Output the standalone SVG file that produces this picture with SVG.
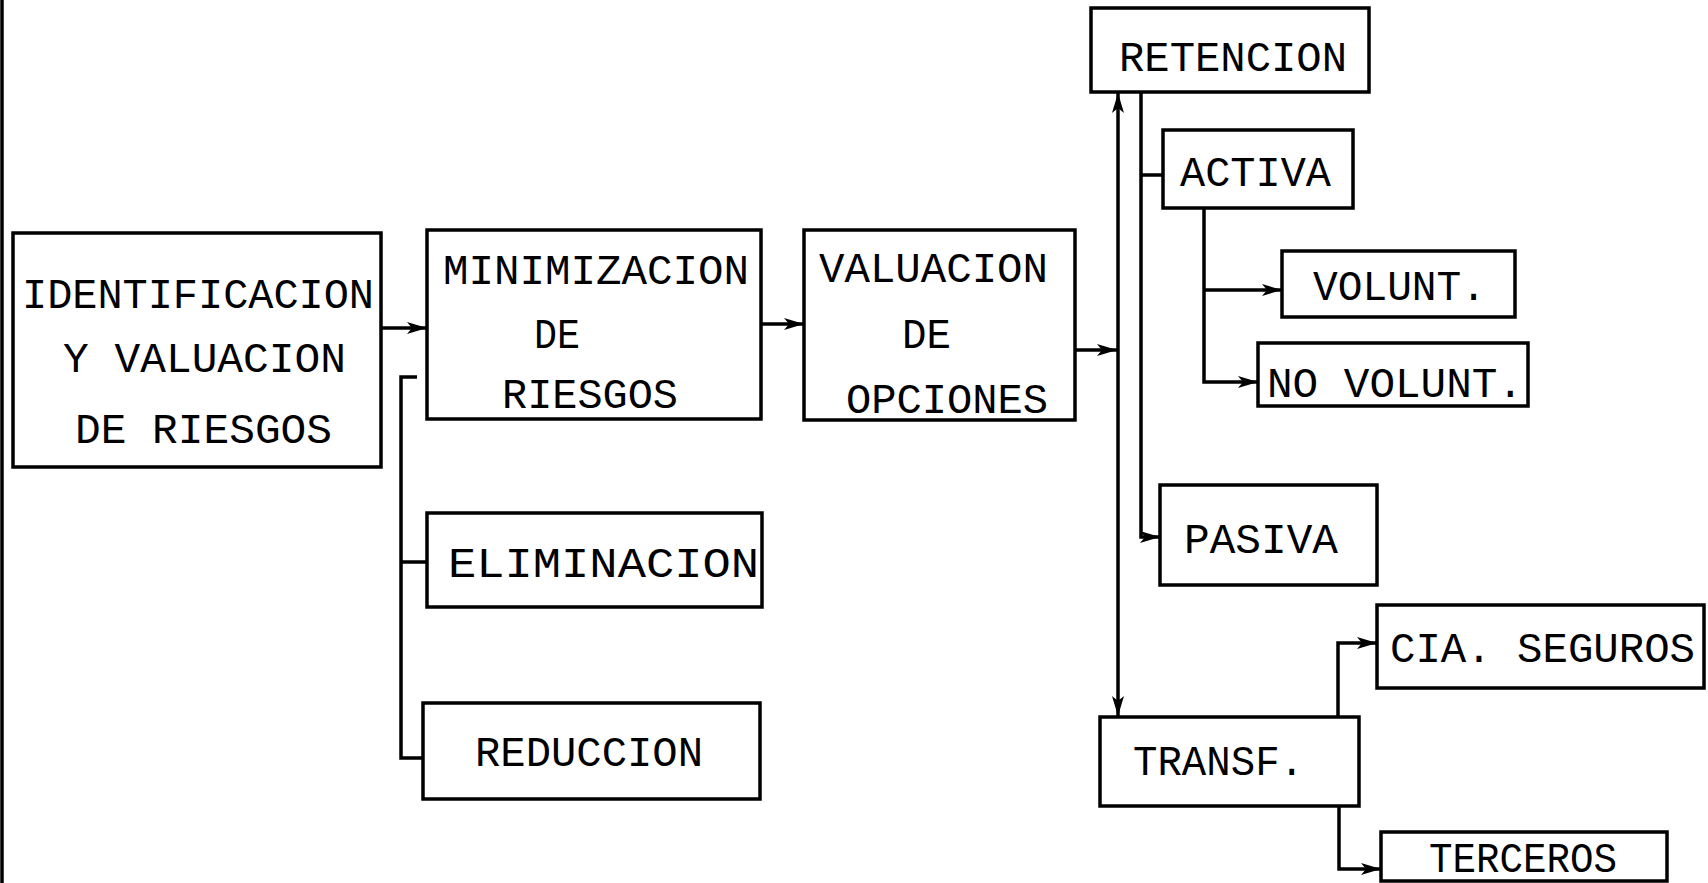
<svg xmlns="http://www.w3.org/2000/svg" width="1708" height="883" viewBox="0 0 1708 883">
<defs>
<style>
.box{fill:#fff;stroke:#000;stroke-width:3.5}
.t{font-family:"Liberation Mono","DejaVu Sans Mono",monospace;font-size:42px;fill:#000}
.c{fill:none;stroke:#000;stroke-width:3.5;stroke-linejoin:miter}
</style>
<marker id="ah" viewBox="0 0 20 12" refX="20" refY="6" markerWidth="20" markerHeight="12" markerUnits="userSpaceOnUse" orient="auto-start-reverse">
<path d="M0,0 L20,6 L0,12 L5,6 Z" fill="#000"/>
</marker>
</defs>
<rect width="1708" height="883" fill="#fff"/>
<line x1="2" y1="0" x2="2" y2="883" class="c"/>

<g id="connectors">
<line class="c" x1="381" y1="328" x2="427" y2="328" marker-end="url(#ah)"/>
<line class="c" x1="761" y1="324" x2="804" y2="324" marker-end="url(#ah)"/>
<line class="c" x1="1075" y1="350" x2="1117" y2="350" marker-end="url(#ah)"/>
<line class="c" x1="1118" y1="93" x2="1118" y2="716" marker-start="url(#ah)" marker-end="url(#ah)"/>
<polyline class="c" points="1141,93 1141,537 1160,537" marker-end="url(#ah)"/>
<line class="c" x1="1141" y1="175" x2="1163" y2="175"/>
<polyline class="c" points="1204,208 1204,382 1258,382" marker-end="url(#ah)"/>
<line class="c" x1="1204" y1="290" x2="1282" y2="290" marker-end="url(#ah)"/>
<polyline class="c" points="1338,717 1338,643 1377,643" marker-end="url(#ah)"/>
<polyline class="c" points="1339,806 1339,869 1381,869" marker-end="url(#ah)"/>
<polyline class="c" points="417,377 401,377 401,758 423,758"/>
<line class="c" x1="401" y1="562" x2="427" y2="562"/>
</g>

<g id="n-ident"><rect class="box" x="13" y="233" width="368" height="234"/>
<text class="t" x="22" y="308" textLength="352" lengthAdjust="spacingAndGlyphs">IDENTIFICACION</text>
<text class="t" x="63" y="372" textLength="283" lengthAdjust="spacingAndGlyphs">Y VALUACION</text>
<text class="t" x="75" y="443" textLength="257" lengthAdjust="spacingAndGlyphs">DE RIESGOS</text></g>

<g id="n-minim"><rect class="box" x="427" y="230" width="334" height="189"/>
<text class="t" x="443" y="284" textLength="306" lengthAdjust="spacingAndGlyphs">MINIMIZACION</text>
<text class="t" x="534" y="348" textLength="46" lengthAdjust="spacingAndGlyphs">DE</text>
<text class="t" x="502" y="408" textLength="176" lengthAdjust="spacingAndGlyphs">RIESGOS</text></g>

<g id="n-valuacion"><rect class="box" x="804" y="230" width="271" height="190"/>
<text class="t" x="819" y="282" textLength="229" lengthAdjust="spacingAndGlyphs">VALUACION</text>
<text class="t" x="902" y="348" textLength="49" lengthAdjust="spacingAndGlyphs">DE</text>
<text class="t" x="846" y="413" textLength="202" lengthAdjust="spacingAndGlyphs">OPCIONES</text></g>

<g id="n-elim"><rect class="box" x="427" y="513" width="335" height="94"/>
<text class="t" x="448" y="577" textLength="311" lengthAdjust="spacingAndGlyphs">ELIMINACION</text></g>

<g id="n-reduc"><rect class="box" x="423" y="703" width="337" height="96"/>
<text class="t" x="475" y="766" textLength="228" lengthAdjust="spacingAndGlyphs">REDUCCION</text></g>

<g id="n-retencion"><rect class="box" x="1091" y="8" width="278" height="84"/>
<text class="t" x="1119" y="71" textLength="228" lengthAdjust="spacingAndGlyphs">RETENCION</text></g>

<g id="n-activa"><rect class="box" x="1163" y="130" width="190" height="78"/>
<text class="t" x="1180" y="186" textLength="151" lengthAdjust="spacingAndGlyphs">ACTIVA</text></g>

<g id="n-volunt"><rect class="box" x="1282" y="251" width="233" height="66"/>
<text class="t" x="1313" y="300" textLength="173" lengthAdjust="spacingAndGlyphs">VOLUNT.</text></g>

<g id="n-novolunt"><rect class="box" x="1258" y="343" width="270" height="63"/>
<text class="t" x="1267" y="397" textLength="256" lengthAdjust="spacingAndGlyphs">NO VOLUNT.</text></g>

<g id="n-pasiva"><rect class="box" x="1160" y="485" width="217" height="100"/>
<text class="t" x="1184" y="553" textLength="154" lengthAdjust="spacingAndGlyphs">PASIVA</text></g>

<g id="n-cia"><rect class="box" x="1377" y="605" width="327" height="83"/>
<text class="t" x="1390" y="662" textLength="305" lengthAdjust="spacingAndGlyphs">CIA. SEGUROS</text></g>

<g id="n-transf"><rect class="box" x="1100" y="717" width="259" height="89"/>
<text class="t" x="1133" y="775" textLength="171" lengthAdjust="spacingAndGlyphs">TRANSF.</text></g>

<g id="n-terceros"><rect class="box" x="1381" y="832" width="286" height="49"/>
<text class="t" x="1429" y="872" textLength="188" lengthAdjust="spacingAndGlyphs">TERCEROS</text></g>
</svg>
